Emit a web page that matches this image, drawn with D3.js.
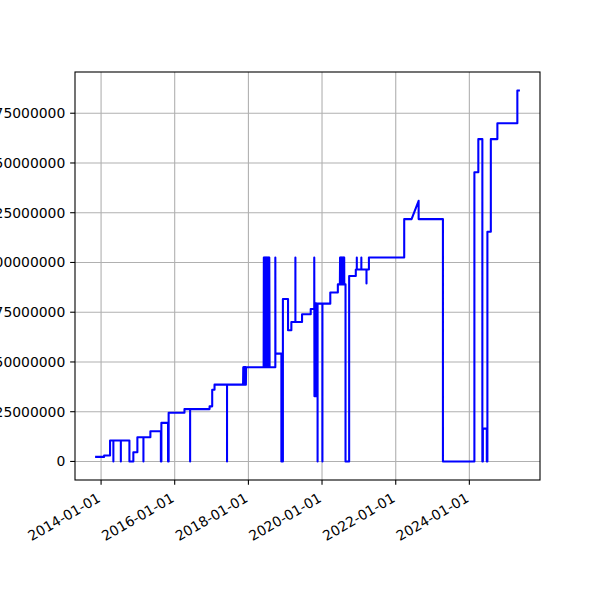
<!DOCTYPE html>
<html><head><meta charset="utf-8">
<script src="https://cdn.jsdelivr.net/npm/d3@7"></script>
<style>body{margin:0;background:#fff} svg{display:block}</style>
</head><body><svg id="c" width="600" height="600"></svg>
<script>
// ---- data ----
const dates = [
"2013-11-13","2014-01-31","2014-01-31","2014-03-31","2014-03-31",
"2014-05-03","2014-05-03","2014-05-03",
"2014-07-16","2014-07-16","2014-07-16",
"2014-10-09","2014-10-09","2014-11-17","2014-11-17",
"2014-12-27","2014-12-27",
"2015-02-25","2015-02-25","2015-02-25",
"2015-05-05","2015-05-05",
"2015-08-17","2015-08-17","2015-08-22","2015-08-22",
"2015-10-27","2015-10-27","2015-11-02","2015-11-02",
"2016-04-07","2016-04-07",
"2016-06-02","2016-06-02","2016-06-02",
"2016-12-12","2016-12-12","2017-01-07","2017-01-07","2017-01-30","2017-01-30",
"2017-06-03","2017-06-03","2017-06-03",
"2017-11-09","2017-11-11","2017-11-13","2017-11-15","2017-11-17","2017-11-19","2017-11-21","2017-11-23",
"2017-11-25","2017-11-27","2017-11-29","2017-12-01","2017-12-03","2017-12-05","2017-12-07","2017-12-09",
"2018-06-01","2018-06-03","2018-06-06","2018-06-09","2018-06-12","2018-06-15","2018-06-18","2018-06-21",
"2018-06-24","2018-06-27","2018-06-30","2018-07-03","2018-07-06","2018-07-09","2018-07-12","2018-07-15",
"2018-07-18","2018-07-21","2018-07-24","2018-07-27","2018-07-30",
"2018-09-25","2018-09-25","2018-09-26",
"2018-11-24","2018-11-24","2018-12-09","2018-12-09",
"2019-01-29","2019-01-29","2019-03-03","2019-03-03",
"2019-04-12","2019-04-12","2019-04-12",
"2019-06-17","2019-06-17","2019-09-11","2019-09-11",
"2019-10-16","2019-10-16","2019-10-18","2019-10-20","2019-10-22","2019-10-24","2019-10-26","2019-10-28",
"2019-10-30","2019-11-01","2019-11-03","2019-11-05","2019-11-07","2019-11-09",
"2019-11-18","2019-11-18","2019-11-18",
"2020-01-05","2020-01-05","2020-01-05",
"2020-03-23","2020-03-23","2020-06-06","2020-06-06",
"2020-06-26","2020-06-28","2020-07-01","2020-07-04","2020-07-07","2020-07-10","2020-07-13","2020-07-16",
"2020-07-19","2020-07-22","2020-07-25","2020-07-28","2020-07-31","2020-08-03","2020-08-06","2020-08-08","2020-08-09",
"2020-08-21","2020-08-21","2020-09-26","2020-09-26",
"2020-12-01","2020-12-01",
"2020-12-11","2020-12-11","2020-12-11",
"2021-01-25","2021-01-25","2021-01-25",
"2021-03-17","2021-03-17","2021-03-17",
"2021-04-10","2021-04-10",
"2022-03-26","2022-03-26","2022-06-07","2022-08-16","2022-08-16",
"2023-04-14","2023-04-14","2024-02-20","2024-02-20",
"2024-03-30","2024-03-30","2024-05-09","2024-05-09",
"2024-05-14","2024-05-14","2024-06-22","2024-06-22","2024-06-28","2024-06-28",
"2024-08-01","2024-08-01","2024-10-05","2024-10-05",
"2025-04-21","2025-04-21","2025-05-06"
];
const values = [
2300000,2300000,3000000,3000000,10500000,
10500000,0,10500000,
10500000,0,10500000,
10500000,0,0,4600000,
4600000,12200000,
12200000,0,12200000,
12200000,15200000,
15200000,0,0,19400000,
19400000,0,0,24500000,
24500000,26300000,
26300000,0,26300000,
26300000,27700000,27700000,36000000,36000000,38600000,
38600000,0,38600000,
38600000,47300000,38600000,47300000,38600000,47300000,38600000,47300000,
38600000,47300000,38600000,47300000,38600000,47300000,38600000,47300000,
47300000,102500000,47300000,102500000,47300000,102500000,47300000,102500000,
47300000,102500000,47300000,102500000,47300000,102500000,47300000,102500000,
47300000,102500000,47300000,102500000,47300000,
47300000,102500000,54200000,
54200000,0,0,81600000,
81600000,65900000,65900000,70100000,
70100000,102500000,70100000,
70100000,74000000,74000000,76600000,
76600000,102500000,32800000,79300000,32800000,79300000,32800000,79300000,
32800000,79300000,32800000,79300000,32800000,79300000,
79300000,0,79300000,
79300000,0,79300000,
79300000,84900000,84900000,89000000,
89000000,102500000,89000000,102500000,89000000,102500000,89000000,102500000,
89000000,102500000,89000000,102500000,89000000,102500000,89000000,102500000,89000000,
89000000,0,0,93200000,
93200000,96500000,
96500000,102500000,96500000,
96500000,102500000,96500000,
96500000,89400000,96500000,
96500000,102500000,
102500000,121800000,121800000,131000000,121800000,
121800000,0,0,145300000,
145300000,162000000,162000000,0,
0,16500000,16500000,0,0,115400000,
115400000,162000000,162000000,170000000,
170000000,186400000,186400000
];
const yTickValues = [0,25000000,50000000,75000000,100000000,125000000,150000000,175000000];
const xTickLabels = ["2014-01-01","2016-01-01","2018-01-01","2020-01-01","2022-01-01","2024-01-01"];

// ---- chart ----
const W = 600, H = 600;
const L = 75, R = 540, T = 72, B = 480;
const parse = d3.utcParse("%Y-%m-%d");
const pts = dates.map((d,i)=>({x: parse(d), y: values[i]}));
const svg = d3.select("#c");
svg.append("rect").attr("width",W).attr("height",H).attr("fill","#fff");

const xe = d3.extent(pts, d=>+d.x), ye = d3.extent(pts, d=>d.y);
const xp = (xe[1]-xe[0])*0.05, yp = (ye[1]-ye[0])*0.05;
const x = d3.scaleUtc().domain([new Date(xe[0]-xp), new Date(xe[1]+xp)]).range([L,R]);
const y = d3.scaleLinear().domain([ye[0]-yp, ye[1]+yp]).range([B,T]);

const font = "DejaVu Sans, sans-serif";
const fs = 13.9;
const tl = 4.86, pad = 4.86;

// grid
const g = svg.append("g");
xTickLabels.forEach(t=>{
  const px = x(parse(t));
  g.append("line").attr("x1",px).attr("x2",px).attr("y1",T).attr("y2",B)
   .attr("stroke","#b0b0b0").attr("stroke-width",1.1);
});
yTickValues.forEach(v=>{
  const py = y(v);
  g.append("line").attr("x1",L).attr("x2",R).attr("y1",py).attr("y2",py)
   .attr("stroke","#b0b0b0").attr("stroke-width",1.1);
});

// line
svg.append("clipPath").attr("id","clip").append("rect")
  .attr("x",L).attr("y",T).attr("width",R-L).attr("height",B-T);
const line = d3.line().x(d=>x(d.x)).y(d=>y(d.y));
svg.append("path").datum(pts).attr("d",line).attr("fill","none")
  .attr("stroke","#0000ff").attr("stroke-width",2.08).attr("stroke-linejoin","round")
  .attr("stroke-linecap","square").attr("clip-path","url(#clip)");

// spines
svg.append("rect").attr("x",L).attr("y",T).attr("width",R-L).attr("height",B-T)
  .attr("fill","none").attr("stroke","#000").attr("stroke-width",1.1);

// x ticks & labels
xTickLabels.forEach(t=>{
  const px = x(parse(t));
  svg.append("line").attr("x1",px).attr("x2",px).attr("y1",B).attr("y2",B+tl)
    .attr("stroke","#000").attr("stroke-width",1.1);
  svg.append("text").text(t)
    .attr("transform",`translate(${px-2},${B+tl+pad+7}) rotate(-30)`)
    .attr("text-anchor","end").attr("dy","0.35em")
    .attr("font-family",font).attr("font-size",fs).attr("fill","#000");
});
// y ticks & labels (clipped at the left edge, as in the reference)
yTickValues.forEach(v=>{
  const py = y(v);
  svg.append("line").attr("x1",L-tl).attr("x2",L).attr("y1",py).attr("y2",py)
    .attr("stroke","#000").attr("stroke-width",1.1);
  svg.append("text").text(d3.format("d")(v))
    .attr("x",L-tl-pad).attr("y",py).attr("dy","0.35em")
    .attr("text-anchor","end")
    .attr("font-family",font).attr("font-size",fs).attr("fill","#000");
});
</script></body></html>
